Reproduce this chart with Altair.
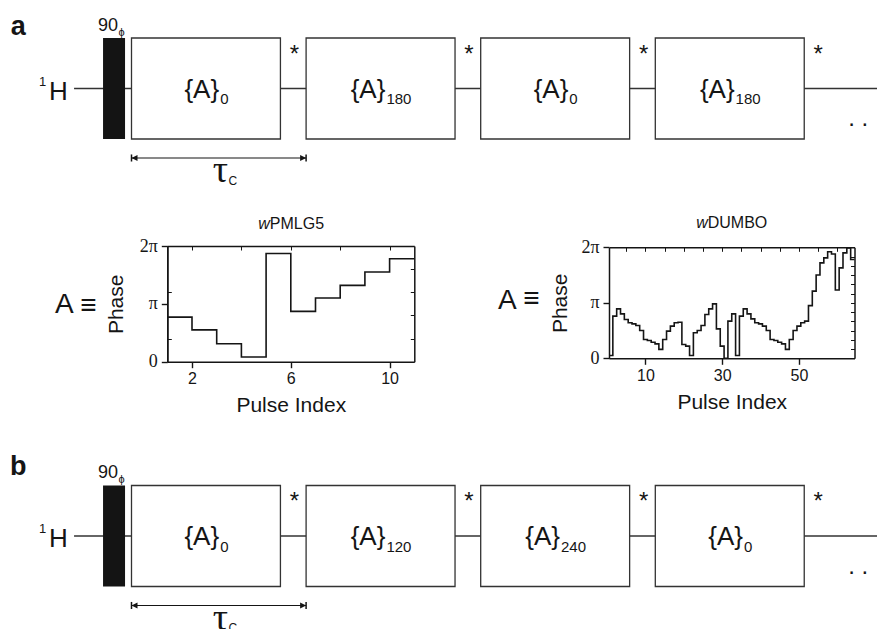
import altair as alt
import pandas as pd

# ---------------- data ----------------
pmlg_index = list(range(1, 11))
pmlg_phase_pi = [0.77, 0.55, 0.31, 0.08, 1.87, 0.87, 1.10, 1.32, 1.55, 1.78]

dumbo_index = list(range(1, 65))
dumbo_phase_pi = [
    0.05, 0.76, 0.89, 0.80, 0.70, 0.64, 0.62, 0.59, 0.50, 0.34,
    0.32, 0.29, 0.26, 0.16, 0.34, 0.49, 0.58, 0.64, 0.65, 0.25,
    0.22, 0.05, 0.46, 0.50, 0.59, 0.79, 0.89, 0.98, 0.53, 0.22,
    0.00, 0.67, 0.80, 0.05, 0.76, 0.89, 0.80, 0.71, 0.64, 0.62,
    0.58, 0.50, 0.34, 0.32, 0.29, 0.26, 0.16, 0.34, 0.50, 0.58,
    0.64, 0.67, 0.95, 1.21, 1.50, 1.72, 1.81, 1.92, 1.88, 1.23,
    1.63, 1.90, 1.99, 1.78,
]
seq_a_phases = [0, 180, 0, 180]
seq_b_phases = [0, 120, 240, 0]

W, H = 877, 629
SANS = "Liberation Sans"
SERIF = "Liberation Serif"
INK = "#151515"
BOX_LEN = 0.853          # block length in units of tau_c
PX_PER_TAU = 174.6       # pixels per tau_c on the diagram axis
MAIN_W = 34.7            # width of "{A}" at 26 px
DIGIT_W = 8.34           # width of a subscript digit at 15 px


def steps(index, values, shift):
    x = [i + shift for i in index] + [index[-1] + shift + 1]
    y = list(values) + [values[-1]]
    return pd.DataFrame({"pulse": x, "phase": y})


def sc(domain, rng):
    return alt.Scale(domain=domain, range=rng, nice=False, zero=False)


# ---------------- scales ----------------
dg_x = sc([0, 1], [131.5, 131.5 + PX_PER_TAU])
dg_ya = sc([0, 1], [139, 38])
dg_yb = sc([0, 1], [586.5, 485.5])
pm_x = sc([1, 11], [167.3, 414.3])
pm_y = sc([0, 2], [361.7, 246])
du_x = sc([0.5, 64.5], [609, 854.5])
du_y = sc([0, 2], [358.3, 247.3])

PI_LABELS = "datum.value == 0 ? '0' : datum.value == 1 ? 'π' : '2π'"


def xd(v, s):
    return alt.XDatum(v, scale=s, axis=None)


def yd(v, s):
    return alt.YDatum(v, scale=s, axis=None)


def txt(t, x, y, xs, ys, size, align="left", baseline="alphabetic", font=SANS,
        style="normal", weight="normal", dx=0):
    return alt.Chart().mark_text(
        text=t, font=font, fontSize=size, align=align, baseline=baseline,
        fontStyle=style, fontWeight=weight, color=INK, dx=dx,
    ).encode(x=xd(x, xs), y=yd(y, ys))


# ---------------- pulse-sequence diagrams ----------------
def diagram(phases, ys, letter, letter_u):
    layers = []
    layers.append(alt.Chart().mark_rule(color="#333", strokeWidth=1.3).encode(
        x=xd(-0.329, dg_x), x2=alt.X2Datum(4.27), y=yd(0.5, ys)))
    layers.append(alt.Chart().mark_rect(color="#141414").encode(
        x=xd(-0.163, dg_x), x2=alt.X2Datum(-0.037), y=yd(0, ys), y2=alt.Y2Datum(1)))
    boxes = pd.DataFrame({"block": list(range(len(phases))), "phase": phases})
    base = alt.Chart(boxes).transform_calculate(
        end=f"datum.block + {BOX_LEN}",
        sub="toString(datum.phase)",
        star=f"datum.block + {BOX_LEN} + 0.08",
    ).transform_calculate(
        labx=(f"datum.block + {BOX_LEN / 2} + "
              f"({MAIN_W} - {DIGIT_W} * length(datum.sub)) / 2 / {PX_PER_TAU}"),
    )
    layers.append(base.mark_rect(fill="white", stroke="#333", strokeWidth=1.3).encode(
        x=alt.X("block:Q", scale=dg_x, axis=None), x2="end:Q",
        y=yd(0, ys), y2=alt.Y2Datum(1)))
    layers.append(base.mark_text(text="{A}", font=SANS, fontSize=26, align="right",
                                 baseline="alphabetic", color=INK).encode(
        x=alt.X("labx:Q", scale=dg_x, axis=None), y=yd(0.41, ys)))
    layers.append(base.mark_text(font=SANS, fontSize=15, align="left",
                                 baseline="alphabetic", color=INK, dx=1).encode(
        x=alt.X("labx:Q", scale=dg_x, axis=None), y=yd(0.342, ys), text="sub:N"))
    layers.append(base.mark_text(text="*", font=SANS, fontSize=24, align="center",
                                 baseline="alphabetic", color=INK).encode(
        x=alt.X("star:Q", scale=dg_x, axis=None), y=yd(0.765, ys)))
    # labels
    layers.append(txt(letter, -0.648, letter_u, dg_x, ys, 27, align="center", weight="bold"))
    layers.append(txt("90", -0.077, 1.074, dg_x, ys, 18, align="right"))
    layers.append(txt("ϕ", -0.074, 1.02, dg_x, ys, 11))
    layers.append(txt("H", -0.472, 0.39, dg_x, ys, 26))
    layers.append(txt("1", -0.53, 0.525, dg_x, ys, 13))
    layers.append(txt(".  .", 4.162, 0.126, dg_x, ys, 24, align="center"))
    # tau_c arrow
    ua = -0.188
    layers.append(alt.Chart().mark_rule(color=INK, strokeWidth=1.2).encode(
        x=xd(0, dg_x), x2=alt.X2Datum(1), y=yd(ua, ys)))
    for xv in (0, 1):
        layers.append(alt.Chart().mark_rule(color=INK, strokeWidth=1.5).encode(
            x=xd(xv, dg_x), y=yd(ua - 0.035, ys), y2=alt.Y2Datum(ua + 0.035)))
    layers.append(alt.Chart().mark_point(shape="M0,0L2,-1L2,1Z", filled=True, size=36,
                                         color=INK, opacity=1).encode(
        x=xd(0, dg_x), y=yd(ua, ys)))
    layers.append(alt.Chart().mark_point(shape="M0,0L-2,-1L-2,1Z", filled=True, size=36,
                                         color=INK, opacity=1).encode(
        x=xd(1, dg_x), y=yd(ua, ys)))
    layers.append(txt("τ", 0.553, -0.426, dg_x, ys, 38, align="right", font=SERIF))
    layers.append(txt("C", 0.556, -0.455, dg_x, ys, 12))
    return layers


# ---------------- phase-step plots ----------------
def major_x_axis(values, title, y_px):
    return alt.Axis(orient="bottom", offset=y_px - H, values=values, title=title,
                    grid=False, domainColor=INK, domainWidth=1.5, tickColor=INK,
                    tickWidth=1.4, tickSize=6, labelFont=SANS, labelFontSize=16,
                    labelColor=INK, labelPadding=3, labelFlush=False, labelOverlap=False,
                    titleFont=SANS, titleFontSize=21, titleFontWeight="normal",
                    titleColor=INK, titlePadding=8)


def major_y_axis(x_px, pad):
    return alt.Axis(orient="left", offset=-x_px, values=[0, 1, 2], labelExpr=PI_LABELS,
                    title="Phase", grid=False, domainColor=INK, domainWidth=1.5,
                    tickColor=INK, tickWidth=1.4, tickSize=6, labelFont=SERIF,
                    labelFontSize=18, labelColor=INK, labelPadding=4, labelOverlap=False,
                    titleFont=SANS, titleFontSize=21, titleFontWeight="normal",
                    titleColor=INK, titlePadding=pad)


def minor_axis(orient, offset, values):
    return alt.Axis(orient=orient, offset=offset, values=values, title=None, labels=False,
                    grid=False, domainColor=INK, domainWidth=1.5, tickColor=INK,
                    tickWidth=1, tickSize=4)


def step_plot(df, xs, ys, x_vals, x_top_vals, y_right_vals, y_left_inner_vals,
              x_left_px, x_right_px, y_bottom_px, y_top_px, title_pad):
    layers = []
    base = alt.Chart(df)
    layers.append(base.mark_line(interpolate="step-after", color=INK, strokeWidth=1.6).encode(
        x=alt.X("pulse:Q", scale=xs, axis=major_x_axis(x_vals, "Pulse Index", y_bottom_px)),
        y=alt.Y("phase:Q", scale=ys, axis=major_y_axis(x_left_px, title_pad))))
    layers.append(base.mark_line(strokeOpacity=0).encode(
        x=alt.X("pulse:Q", scale=xs, axis=minor_axis("bottom", y_top_px - H, x_top_vals)),
        y=alt.Y("phase:Q", scale=ys, axis=minor_axis("left", -x_right_px, y_right_vals))))
    if y_left_inner_vals:
        layers.append(base.mark_line(strokeOpacity=0).encode(
            x=alt.X("pulse:Q", scale=xs, axis=None),
            y=alt.Y("phase:Q", scale=ys,
                    axis=minor_axis("right", x_left_px - W, y_left_inner_vals))))
    return layers


pm_layers = step_plot(steps(pmlg_index, pmlg_phase_pi, 0), pm_x, pm_y,
                      [2, 6, 10], [2, 4, 6, 8, 10], [0.4, 0.8, 1.2, 1.6], [0.4, 1.2],
                      167.3, 414.3, 361.7, 246, 13)
du_layers = step_plot(steps(dumbo_index, dumbo_phase_pi, -0.5), du_x, du_y,
                      [10, 30, 50], list(range(5, 65, 5)), [k / 6 for k in range(1, 12)], None,
                      609, 854.5, 358.3, 247.3, 10)

annot = [
    txt("w", 6, 2.30, pm_x, pm_y, 16, align="right", style="italic", dx=-21),
    txt("PMLG5", 6, 2.30, pm_x, pm_y, 16, align="left", dx=-21),
    txt("w", 32.5, 2.348, du_x, du_y, 16, align="right", style="italic", dx=-24),
    txt("DUMBO", 32.5, 2.348, du_x, du_y, 16, align="left", dx=-24),
    txt("A", -3.547, 0.842, pm_x, pm_y, 28),
    txt("≡", -2.19, 0.96, pm_x, pm_y, 28, align="center", baseline="middle"),
    txt("A", -28.44, 0.888, du_x, du_y, 28),
    txt("≡", -19.7, 1.06, du_x, du_y, 28, align="center", baseline="middle"),
]

layers = (diagram(seq_a_phases, dg_ya, "a", 1.03)
          + pm_layers + du_layers + annot
          + diagram(seq_b_phases, dg_yb, "b", 1.105))

chart = alt.layer(*layers).resolve_scale(
    x="independent", y="independent"
).resolve_axis(
    x="independent", y="independent"
).properties(
    width=W, height=H, autosize=alt.AutoSizeParams(type="none"), padding=0,
    background="white",
).configure_view(strokeWidth=0)

chart.save("out.html", embed_options={"renderer": "svg", "actions": False})
